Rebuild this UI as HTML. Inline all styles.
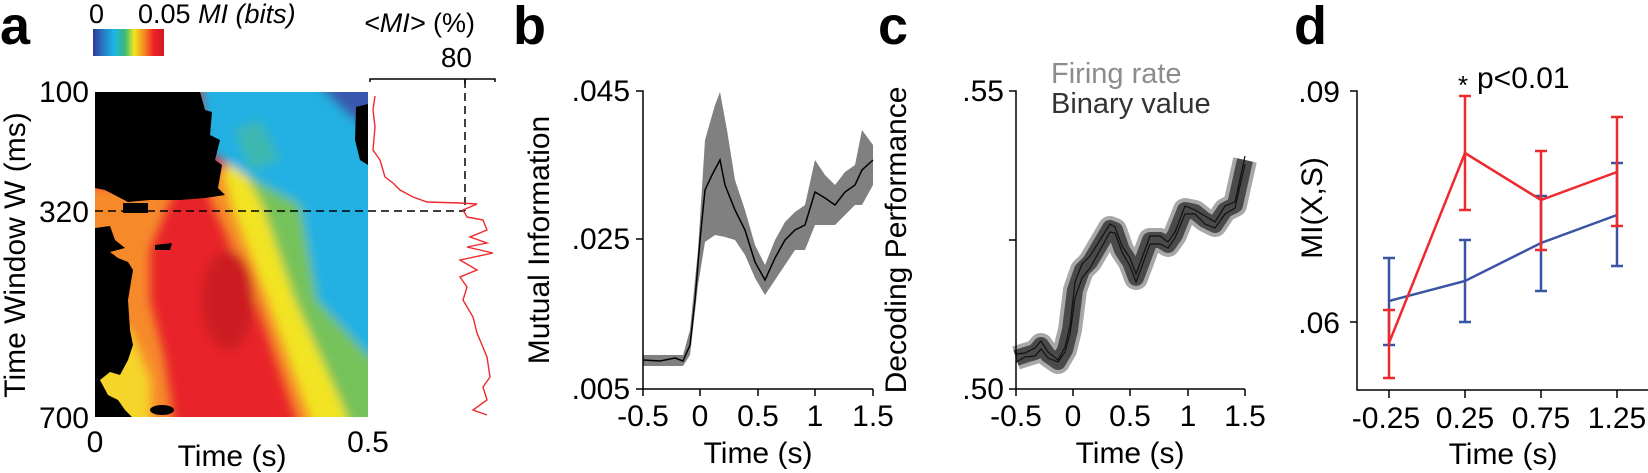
<!DOCTYPE html>
<html><head><meta charset="utf-8"><style>
html,body{margin:0;padding:0;background:#fff;}
svg{display:block;font-family:"Liberation Sans",Arial,sans-serif;}
</style></head><body>
<svg width="1648" height="473" viewBox="0 0 1648 473" xmlns="http://www.w3.org/2000/svg">
<defs>
<linearGradient id="cb" x1="0" x2="1" y1="0" y2="0">
<stop offset="0" stop-color="#2e3a92"/><stop offset="0.15" stop-color="#2a7cc8"/><stop offset="0.3" stop-color="#1cb6e8"/><stop offset="0.45" stop-color="#3cb878"/><stop offset="0.58" stop-color="#eee620"/><stop offset="0.72" stop-color="#f58a20"/><stop offset="0.86" stop-color="#ec2227"/><stop offset="1" stop-color="#d21a24"/>
</linearGradient>
<filter id="bl" x="-10%" y="-10%" width="120%" height="120%"><feGaussianBlur stdDeviation="5"/></filter>
<clipPath id="hm"><rect x="95" y="92" width="273" height="325"/></clipPath>
</defs>

<!-- Panel letters -->
<text x="0" y="44" font-size="54" font-weight="bold">a</text>
<text x="513" y="44" font-size="54" font-weight="bold">b</text>
<text x="878" y="44" font-size="54" font-weight="bold">c</text>
<text x="1294" y="44" font-size="54" font-weight="bold">d</text>

<!-- Panel a colorbar -->
<rect x="93" y="29" width="71" height="27" fill="url(#cb)"/>
<text x="89" y="23" font-size="27">0</text>
<text x="138" y="23" font-size="27">0.05 <tspan font-style="italic">MI (bits)</tspan></text>

<!-- heatmap -->
<g clip-path="url(#hm)">
<rect x="95" y="92" width="273" height="325" fill="#e8242a"/>
<g filter="url(#bl)">
<polygon points="80,185 175,190 150,250 150,300 165,360 175,430 80,430" fill="#f6892a"/>
<polygon points="80,330 130,330 150,380 150,430 80,430" fill="#f5d52a"/>
<polygon points="200,170 210,200 255,300 300,430 380,430 380,170" fill="#f58c25"/>
<polygon points="222,165 232,205 268,300 315,430 380,430 380,165" fill="#f2e424"/>
<polygon points="232,150 262,205 295,300 340,400 352,430 380,430 380,150" fill="#76c25a"/>
<polygon points="200,80 205,150 245,175 300,205 317,300 368,355 380,355 380,80" fill="#21b1e2"/>
<polygon points="235,130 260,120 280,160 250,170" fill="#3db8b0"/>
<polygon points="312,80 380,80 380,140 345,112" fill="#3858ad"/>
<ellipse cx="228" cy="300" rx="26" ry="50" fill="#cc1c22"/>
</g>
<!-- black areas -->
<polygon points="95,92 200,92 205,110 212,112 210,135 220,140 215,160 222,165 218,188 225,195 205,198 180,200 150,200 128,202 105,190 95,188" fill="#000"/>
<polygon points="123,203 148,203 148,213 123,213" fill="#000"/>
<polygon points="95,228 110,226 115,240 125,248 110,252 118,258 128,262 133,270 128,300 130,330 133,345 128,360 120,375 110,372 100,380 108,395 118,400 125,410 132,417 95,417" fill="#000"/>
<polygon points="95,335 110,340 108,360 100,365 95,365" fill="#000"/>
<ellipse cx="162" cy="410" rx="12" ry="5" fill="#000"/>
<polygon points="356,107 368,104 368,165 360,160 355,140" fill="#000"/>
<polygon points="155,245 172,243 170,250 155,250" fill="#000"/>
</g>
<!-- dashed lines -->
<line x1="95" y1="211" x2="465" y2="211" stroke="#000" stroke-width="1.5" stroke-dasharray="8,5"/>
<line x1="465" y1="80" x2="465" y2="211" stroke="#000" stroke-width="1.5" stroke-dasharray="8,5"/>
<!-- marginal axis -->
<polyline points="370,82 370,79 495,79 495,82" fill="none" stroke="#000" stroke-width="1.5"/>
<line x1="465" y1="79" x2="465" y2="84" stroke="#000" stroke-width="1.5"/>
<text x="364" y="32" font-size="27"><tspan font-style="italic">&lt;MI&gt;</tspan> (%)</text>
<text x="472" y="67" font-size="28" text-anchor="end">80</text>
<polyline fill="none" stroke="#ee2a2e" stroke-width="1.4" points="375,96 373,110 375,127 373,150 380,160 385,177 393,183 400,190 413,197 427,202 460,203 477,204 463,210 467,217 483,220 487,230 470,237 487,243 467,247 493,253 460,260 477,270 460,277 467,287 463,300 473,317 477,333 487,357 490,377 483,387 487,400 473,410 487,415"/>
<!-- a ticks labels -->
<text x="89" y="102" font-size="30" text-anchor="end">100</text>
<text x="89" y="222" font-size="30" text-anchor="end">320</text>
<text x="89" y="428" font-size="30" text-anchor="end">700</text>
<text x="95" y="452" font-size="30" text-anchor="middle">0</text>
<text x="368" y="452" font-size="30" text-anchor="middle">0.5</text>
<text x="232" y="466" font-size="30" text-anchor="middle">Time (s)</text>
<text transform="translate(25,255) rotate(-90)" font-size="30" text-anchor="middle">Time Window W (ms)</text>

<!-- Panel b -->
<polygon fill="#808080" points="643,355 683,355 690,330 698,250 705,140 715,105 720,92 727,130 735,180 745,210 755,245 765,265 775,240 785,222 795,212 805,205 815,160 825,175 835,185 845,172 855,165 862,130 873,145 873,185 862,205 855,205 845,215 835,225 825,225 815,225 805,250 795,250 785,265 775,280 765,295 755,278 745,255 735,240 725,237 715,235 705,242 698,285 690,355 683,366 643,366"/>
<polyline fill="none" stroke="#000" stroke-width="1.5" points="643,360 660,361 675,358 683,361 690,345 695,300 700,240 705,190 712,175 720,160 725,185 735,210 745,230 755,262 765,280 775,258 785,240 795,230 805,225 815,192 825,198 835,205 845,192 855,185 862,170 873,160"/>
<polyline fill="none" stroke="#000" stroke-width="1.5" points="636,91 643,91 643,389 873,389"/>
<line x1="636" y1="239" x2="643" y2="239" stroke="#000" stroke-width="1.5"/>
<line x1="636" y1="389" x2="643" y2="389" stroke="#000" stroke-width="1.5"/>
<g stroke="#000" stroke-width="1.5"><line x1="700" y1="389" x2="700" y2="396"/><line x1="758" y1="389" x2="758" y2="396"/><line x1="815" y1="389" x2="815" y2="396"/><line x1="873" y1="389" x2="873" y2="396"/><line x1="643" y1="389" x2="643" y2="396"/></g>
<g font-size="30" text-anchor="end"><text x="630" y="101">.045</text><text x="630" y="249">.025</text><text x="630" y="399">.005</text></g>
<g font-size="30" text-anchor="middle"><text x="643" y="426">-0.5</text><text x="700" y="426">0</text><text x="758" y="426">0.5</text><text x="815" y="426">1</text><text x="873" y="426">1.5</text><text x="758" y="463">Time (s)</text></g>
<text transform="translate(549,240) rotate(-90)" font-size="30" text-anchor="middle">Mutual Information</text>

<!-- Panel c -->
<polyline fill="none" stroke="#a8a8a8" stroke-width="24" stroke-linejoin="round" points="1016,358 1025,355 1035,352 1041,345 1048,355 1058,362 1065,350 1070,330 1075,290 1082,270 1090,262 1100,245 1110,228 1115,230 1122,250 1130,262 1136,278 1142,262 1150,240 1160,240 1168,245 1175,235 1185,210 1195,212 1205,220 1215,225 1225,210 1235,205 1245,160"/>
<polyline fill="none" stroke="#4a4a4a" stroke-width="16" stroke-linejoin="round" points="1016,358 1025,355 1035,352 1041,345 1048,355 1058,362 1065,350 1070,330 1075,290 1082,270 1090,262 1100,245 1110,228 1115,230 1122,250 1130,262 1136,278 1142,262 1150,240 1160,240 1168,245 1175,235 1185,210 1195,212 1205,220 1215,225 1225,210 1235,205 1245,160"/>
<polyline fill="none" stroke="#111" stroke-width="1.2" points="1016,362 1025,357 1035,356 1041,349 1048,358 1058,362 1065,352 1070,334 1075,298 1082,278 1090,268 1100,250 1110,232 1115,233 1122,252 1130,266 1136,282 1142,266 1150,244 1160,244 1168,248 1175,238 1185,214 1195,214 1205,224 1215,228 1225,214 1235,208 1245,164"/>
<polyline fill="none" stroke="#111" stroke-width="1.2" points="1016,354 1025,353 1035,348 1041,341 1048,352 1058,360 1065,347 1070,326 1075,282 1082,264 1090,256 1100,240 1110,224 1115,227 1122,246 1130,258 1136,274 1142,258 1150,236 1160,236 1168,242 1175,232 1185,206 1195,210 1205,216 1215,222 1225,206 1235,202 1245,156"/>
<polyline fill="none" stroke="#000" stroke-width="1.5" points="1009,91 1016,91 1016,389 1245,389"/>
<line x1="1009" y1="240" x2="1016" y2="240" stroke="#000" stroke-width="1.5"/>
<line x1="1009" y1="389" x2="1016" y2="389" stroke="#000" stroke-width="1.5"/>
<g stroke="#000" stroke-width="1.5"><line x1="1016" y1="389" x2="1016" y2="396"/><line x1="1073" y1="389" x2="1073" y2="396"/><line x1="1130" y1="389" x2="1130" y2="396"/><line x1="1188" y1="389" x2="1188" y2="396"/><line x1="1245" y1="389" x2="1245" y2="396"/></g>
<g font-size="30" text-anchor="end"><text x="1004" y="101">.55</text><text x="1004" y="399">.50</text></g>
<g font-size="30" text-anchor="middle"><text x="1016" y="426">-0.5</text><text x="1073" y="426">0</text><text x="1130" y="426">0.5</text><text x="1188" y="426">1</text><text x="1245" y="426">1.5</text><text x="1130" y="463">Time (s)</text></g>
<text transform="translate(906,240) rotate(-90)" font-size="30" text-anchor="middle">Decoding Performance</text>
<text x="1051" y="83" font-size="29" fill="#8c8c8c">Firing rate</text>
<text x="1051" y="113" font-size="29" fill="#333">Binary value</text>

<!-- Panel d -->
<polyline fill="none" stroke="#000" stroke-width="1.5" points="1350,91 1357,91 1357,390 1648,390"/>
<line x1="1350" y1="322" x2="1357" y2="322" stroke="#000" stroke-width="1.5"/>
<g stroke="#000" stroke-width="1.5"><line x1="1389" y1="390" x2="1389" y2="398"/><line x1="1465" y1="390" x2="1465" y2="398"/><line x1="1541" y1="390" x2="1541" y2="398"/><line x1="1617" y1="390" x2="1617" y2="398"/></g>
<g stroke="#3a54a4" stroke-width="2.5" fill="none">
<polyline points="1389,301 1465,281 1541,243 1617,215"/>
<path d="M1389,258V345M1383,258H1395M1383,345H1395 M1465,240V322M1459,240H1471M1459,322H1471 M1541,196V291M1535,196H1547M1535,291H1547 M1617,163V266M1611,163H1623M1611,266H1623"/>
</g>
<g stroke="#ee2a2e" stroke-width="2.5" fill="none">
<polyline points="1389,343 1465,153 1541,200 1617,172"/>
<path d="M1389,310V378M1383,310H1395M1383,378H1395 M1465,96V210M1459,96H1471M1459,210H1471 M1541,151V250M1535,151H1547M1535,250H1547 M1617,117V226M1611,117H1623M1611,226H1623"/>
</g>
<g font-size="30" text-anchor="end"><text x="1340" y="102">.09</text><text x="1340" y="333">.06</text></g>
<g font-size="30" text-anchor="middle"><text x="1386" y="428">-0.25</text><text x="1465" y="428">0.25</text><text x="1541" y="428">0.75</text><text x="1617" y="428">1.25</text><text x="1503" y="464">Time (s)</text></g>
<text transform="translate(1322,208) rotate(-90)" font-size="30" text-anchor="middle">MI(X,S)</text>
<text x="1458" y="94" font-size="26">*</text>
<text x="1477" y="88" font-size="30">p&lt;0.01</text>
</svg>
</body></html>
